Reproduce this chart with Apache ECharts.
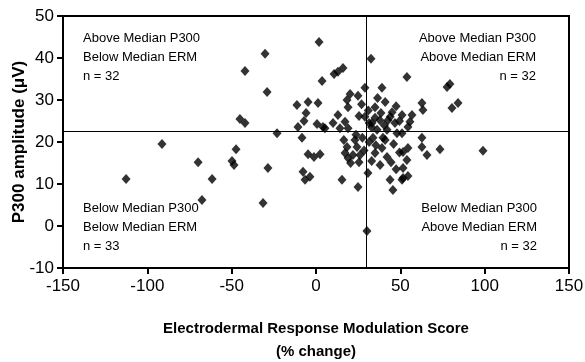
<!DOCTYPE html>
<html>
<head>
<meta charset="utf-8">
<script src="https://cdn.jsdelivr.net/npm/echarts@6/dist/echarts.min.js"></script>
<style>html,body{margin:0;padding:0;background:#fff}#c{width:585px;height:362px}</style>
</head>
<body>
<div id="c"></div>
<script>
// Electrodermal Response Modulation score (% change)
var ermScore = [
 -112.6,-91.3,-69.9,-61.6,-67.6,-49.8,-48.6,-47.4,-29.0,-45.1,-42.1,-23.1,-28.5,-11.3,-4.7,1.2,-5.9,-7.1,-10.7,-8.3,
 0.6,-4.7,-1.2,2.4,-7.7,-3.6,-6.5,1.8,-30.2,-42.1,-31.4,
 32.6,16.0,13.0,10.7,3.6,29.0,39.1,20.2,24.9,18.4,19.0,13.0,25.5,29.0,4.1,10.1,17.2,23.7,
 35.0,38.5,45.1,51.0,37.9,42.7,33.2,46.8,5.3,14.2,19.0,36.2,42.1,48.0,33.8,39.7,23.1,18.4,24.3,39.1,
 17.2,21.9,26.1,35.0,42.1,19.0,44.5,30.8,15.4,24.9,43.9,45.6,51.0,30.2,
 53.9,77.7,79.4,62.8,63.4,84.2,80.6,56.9,55.7,54.5,51.0,62.8,62.8,65.8,73.5,99.0,54.5,51.6,53.9,51.6,54.5,51.6,
 31.0,33.0,35.0,40.5,44.0,47.5,36.5,41.0,31.5,49.5,
 31.5,35.5,33.0,38.0,41.0,46.0,49.5,47.5,
 27.5,16.5,20.5,25.5,28.5,27.0
];
// P300 amplitude (µV)
var p300Amp = [
 11.2,19.5,15.2,11.2,6.2,15.5,14.5,18.3,31.9,25.5,24.5,22.1,13.8,28.8,29.5,29.3,26.9,25.0,23.6,21.0,
 24.3,17.1,16.4,17.1,12.9,11.7,11.0,43.8,41.0,36.9,5.5,
 39.8,37.6,36.7,36.2,34.5,32.9,32.9,31.4,31.0,30.0,28.3,26.4,26.2,26.0,23.6,24.5,24.8,21.7,
 28.3,26.9,27.1,26.4,25.2,25.2,24.5,24.5,23.3,23.3,23.3,22.9,22.9,22.1,21.0,21.0,20.5,18.8,18.8,18.6,
 17.4,16.9,16.9,17.4,16.4,16.2,15.2,12.6,11.0,9.3,11.0,8.6,11.0,-1.2,
 35.5,33.1,33.8,29.3,27.6,29.3,28.1,26.4,24.8,23.6,22.1,21.0,18.8,16.9,18.3,17.9,18.6,17.6,15.7,13.8,11.9,11.4,
 27.5,23.5,25.8,24.0,26.0,28.5,30.5,29.5,24.5,25.0,
 20.0,19.2,15.5,14.5,20.5,19.5,17.5,13.5,
 21.0,20.5,15.0,15.2,18.0,29.0
];
var medianERM = 29.6;
var medianP300 = 22.5;
var xTicks = [-150,-100,-50,0,50,100,150];
var yTicks = [-10,0,10,20,30,40,50];
var quadrantLabels = [
 'Above Median P300\nBelow Median ERM\nn = 32',
 'Above Median P300\nAbove Median ERM\nn = 32',
 'Below Median P300\nBelow Median ERM\nn = 33',
 'Below Median P300\nAbove Median ERM\nn = 32'
];
var xTitle = 'Electrodermal Response Modulation Score\n(% change)';
var yTitle = 'P300 amplitude (\u03bcV)';

var points = ermScore.map(function(x,i){return [x,p300Amp[i]];});
var FONT = 'Arial, "Liberation Sans", sans-serif';
var chart = echarts.init(document.getElementById('c'), null, {renderer:'canvas'});
var lblStyle = {fontSize:13, fontFamily:FONT, lineHeight:19, fill:'#000'};
chart.setOption({
  animation:false,
  backgroundColor:'#fff',
  grid:{left:63, right:16, top:16, bottom:94, containLabel:false, outerBoundsMode:'none',
        show:true, borderColor:'#000', borderWidth:2, backgroundColor:'transparent'},
  xAxis:{
    type:'value', min:xTicks[0], max:xTicks[xTicks.length-1], interval:50,
    axisLine:{show:true, onZero:false, lineStyle:{color:'#000', width:2}},
    axisTick:{show:true, length:6, lineStyle:{color:'#000', width:2}},
    axisLabel:{color:'#000', fontSize:17, fontFamily:FONT, margin:10},
    splitLine:{show:false},
    name:xTitle, nameLocation:'middle', nameGap:49, nameMoveOverlap:false,
    nameTextStyle:{color:'#000', fontSize:15, fontWeight:'bold', fontFamily:FONT, lineHeight:23}
  },
  yAxis:{
    type:'value', min:yTicks[0], max:yTicks[yTicks.length-1], interval:10,
    axisLine:{show:true, onZero:false, lineStyle:{color:'#000', width:2}},
    axisTick:{show:true, length:6, lineStyle:{color:'#000', width:2}},
    axisLabel:{color:'#000', fontSize:17, fontFamily:FONT, margin:9},
    splitLine:{show:false},
    name:yTitle, nameLocation:'middle', nameGap:35, nameMoveOverlap:false,
    nameTextStyle:{color:'#000', fontSize:17, fontWeight:'bold', fontFamily:FONT}
  },
  series:[{
    type:'scatter',
    data:points,
    symbol:'diamond',
    symbolSize:[9,10],
    itemStyle:{color:'#000'},
    markLine:{
      silent:true, symbol:['none','none'],
      label:{show:false},
      lineStyle:{color:'#000', width:1, type:'solid'},
      data:[{xAxis:medianERM},{yAxis:medianP300}]
    }
  }],
  graphic:[
    {type:'text', x:83, y:29, style:Object.assign({text:quadrantLabels[0], align:'left'}, lblStyle)},
    {type:'text', x:536, y:29, style:Object.assign({text:quadrantLabels[1], align:'right'}, lblStyle)},
    {type:'text', x:83, y:199, style:Object.assign({text:quadrantLabels[2], align:'left'}, lblStyle)},
    {type:'text', x:537, y:199, style:Object.assign({text:quadrantLabels[3], align:'right'}, lblStyle)}
  ]
});
</script>
</body>
</html>
